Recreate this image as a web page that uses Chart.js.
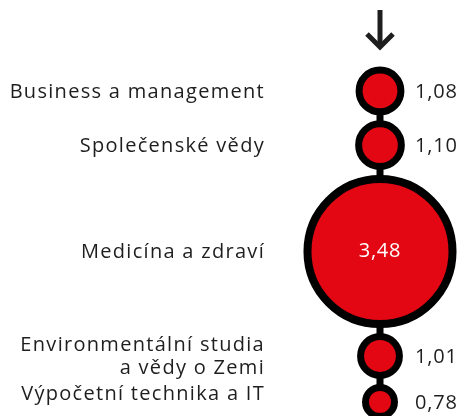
<!DOCTYPE html>
<html><head><meta charset="utf-8">
<script src="https://cdn.jsdelivr.net/npm/chart.js@4/dist/chart.umd.min.js"></script>
<style>html,body{margin:0;padding:0;background:#fff}canvas{display:block}</style>
</head><body>
<canvas id="c" width="461" height="416"></canvas>
<script>
// ---- data ----
const categories = ["Business a management", "Společenské vědy", "Medicína a zdraví", ["Environmentální studia", "a vědy o Zemi"], "Výpočetní technika a IT"];
const values = [1.08, 1.10, 3.48, 1.01, 0.78];

// ---- style ----
const RED = '#E30613', INK = '#1e1e1e';
const FONT = '"Open Sans"';
const FONT_SIZE = 20;
const LINE_H = 23;
const LABEL_X = 265, VALUE_X = 415;
const TOP = 66.5, GAP = 5;

function radius(v) { return 21.5 * v - 2.3; }
function border(v) { return v > 3 ? 8 : 7; }

// stack bubbles vertically, each placed below the previous one
const outer = values.map(v => radius(v) + border(v) / 2);
const centers = [];
let edge = TOP;
outer.forEach(o => { centers.push(edge + o); edge += 2 * o + GAP; });

const bubblePoints = values.map((v, i) => ({ x: 0, y: centers[i], r: radius(v) }));
const linePoints = values.map((v, i) => ({ x: 0, y: centers[i] }));

const fmt = v => v.toFixed(2).replace('.', ',');

const labelPlugin = {
  id: 'labels',
  afterDatasetsDraw(chart) {
    const ctx = chart.ctx, xs = chart.scales.x, ys = chart.scales.y;
    const cx = xs.getPixelForValue(0);
    const H = chart.height;
    ctx.save();
    ctx.font = `${FONT_SIZE}px ${FONT}`;
    ctx.textBaseline = 'middle';
    categories.forEach((c, i) => {
      const y = ys.getPixelForValue(centers[i]);
      const lines = Array.isArray(c) ? c : [c];
      const ly = Math.min(y + 1, H - 22);
      ctx.fillStyle = INK;
      ctx.textAlign = 'right';
      ctx.letterSpacing = '1.3px';
      lines.forEach((l, j) => ctx.fillText(l, LABEL_X, ly + (j - (lines.length - 1) / 2) * LINE_H));
      const txt = fmt(values[i]);
      ctx.letterSpacing = '0.8px';
      if (values[i] > 3) {
        ctx.fillStyle = '#fff'; ctx.textAlign = 'center';
        ctx.fillText(txt, cx, y);
      } else {
        ctx.fillStyle = INK; ctx.textAlign = 'left';
        ctx.fillText(txt, VALUE_X, y + 1);
      }
    });
    ctx.letterSpacing = '0px';
    // arrow above the column
    ctx.strokeStyle = INK;
    ctx.lineWidth = 5;
    ctx.lineCap = 'butt';
    ctx.beginPath();
    ctx.moveTo(cx, 10); ctx.lineTo(cx, 46);
    ctx.stroke();
    ctx.lineJoin = 'miter';
    ctx.beginPath();
    ctx.moveTo(cx - 13, 34); ctx.lineTo(cx, 47); ctx.lineTo(cx + 13, 34);
    ctx.stroke();
    ctx.restore();
  }
};

new Chart(document.getElementById('c'), {
  data: {
    datasets: [
      {
        type: 'bubble',
        data: bubblePoints,
        backgroundColor: RED,
        borderColor: '#000',
        borderWidth: ctx => border(values[ctx.dataIndex] || 1),
        hoverBorderWidth: ctx => border(values[ctx.dataIndex] || 1),
        order: 1,
        clip: false
      },
      {
        type: 'line',
        data: linePoints,
        borderColor: '#000',
        borderWidth: 7,
        pointRadius: 0,
        fill: false,
        order: 2,
        clip: false
      }
    ]
  },
  options: {
    responsive: false,
    devicePixelRatio: 1,
    animation: false,
    layout: { padding: 0, autoPadding: false },
    plugins: { legend: { display: false }, tooltip: { enabled: false }, title: { display: false } },
    events: [],
    scales: {
      x: { type: 'linear', min: -380, max: 81, display: false },
      y: { type: 'linear', min: 0, max: 416, reverse: true, display: false }
    }
  },
  plugins: [labelPlugin]
});
</script>
</body></html>
